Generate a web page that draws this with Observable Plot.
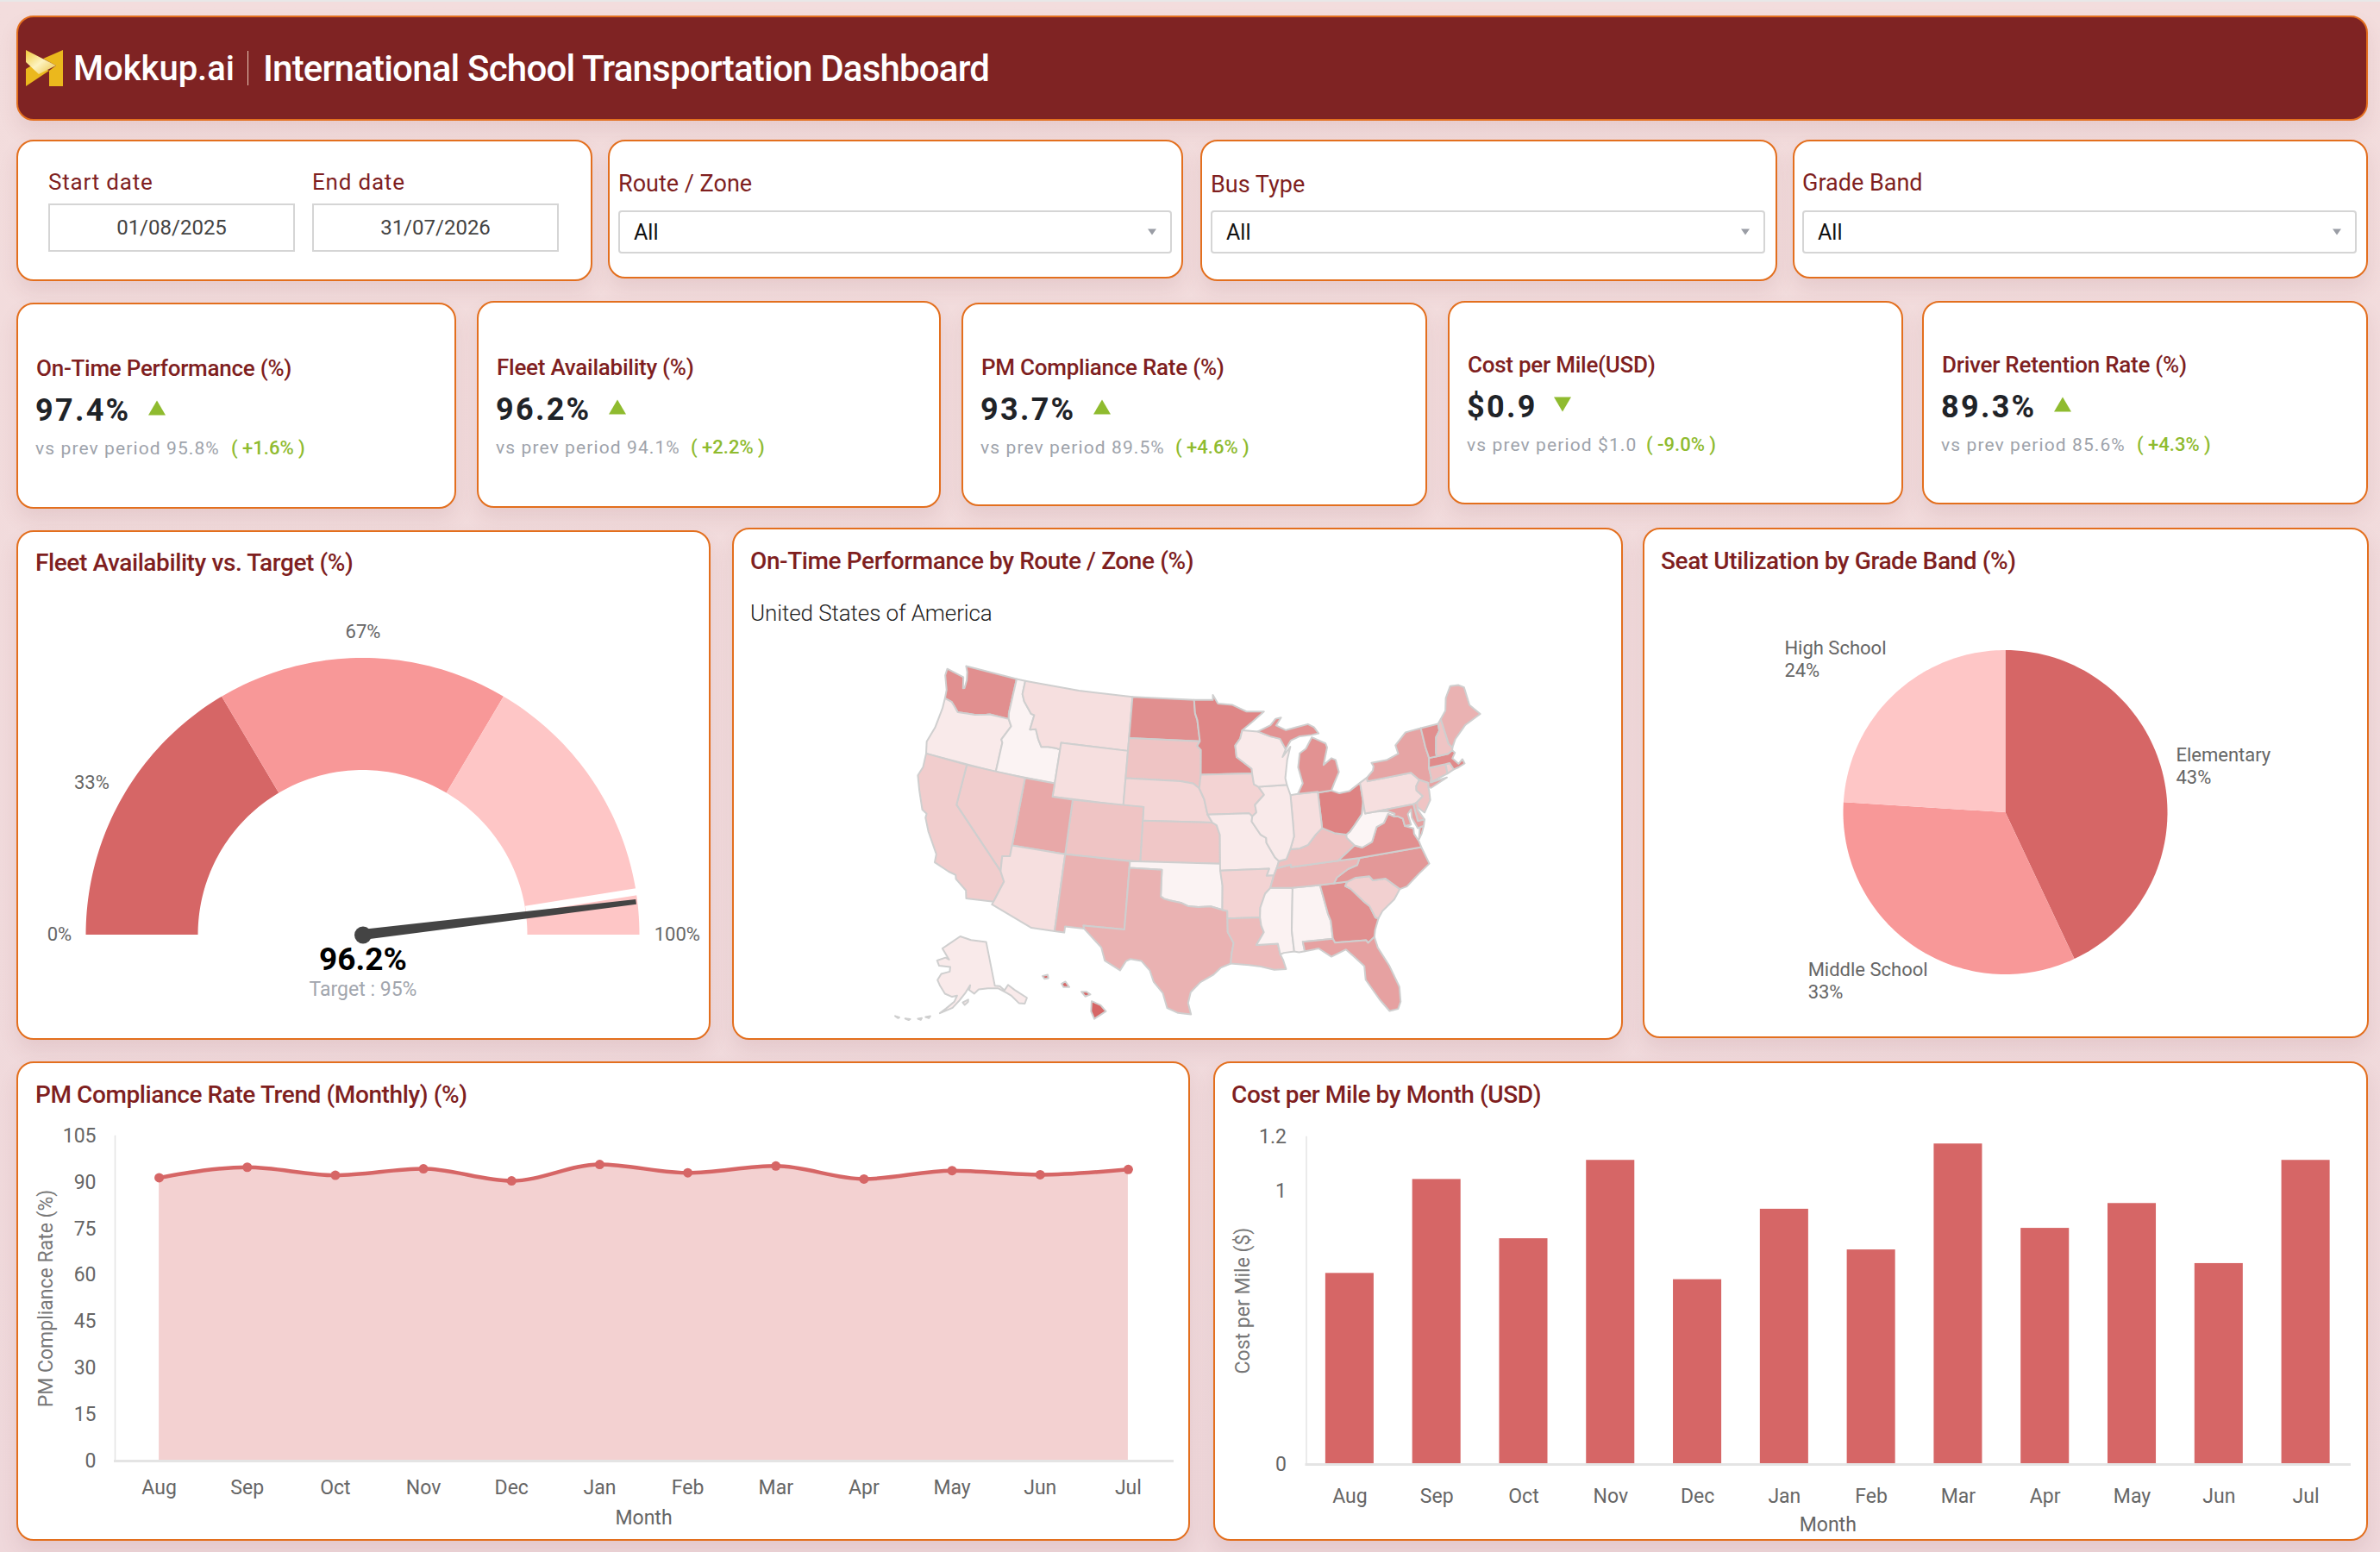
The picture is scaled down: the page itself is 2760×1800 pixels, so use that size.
<!DOCTYPE html>
<html><head><meta charset="utf-8">
<script src="https://cdn.jsdelivr.net/npm/d3@7"></script>
<script src="https://cdn.jsdelivr.net/npm/@observablehq/plot@0.6"></script>
<style>
html,body{margin:0;padding:0;background:#f2dcdc;width:2760px;height:1800px;overflow:hidden;font-family:Roboto,sans-serif}
#page{position:relative;width:2760px;height:1800px;background:linear-gradient(#f3dddd,#efd8db);border-top:2px solid #e8e8e8;box-sizing:border-box;margin-top:0}
.card{position:absolute;box-sizing:border-box;background:#fff;border:2.5px solid #e36f1e;border-radius:20px;box-shadow:0 12px 22px rgba(130,60,70,.10)}
.t{position:absolute;white-space:nowrap;transform:translateY(-50%);line-height:1}
.box{position:absolute;box-sizing:border-box;background:#fff;border:2px solid #d5d5d5}
.tri{position:absolute;width:0;height:0;transform:translate(-50%,-50%)}
svg.plot{position:absolute;left:0;top:0}
</style></head><body><div id="page"></div>
<script>
// ---------- data ----------
const months = ["Aug","Sep","Oct","Nov","Dec","Jan","Feb","Mar","Apr","May","Jun","Jul"];
const pmCompliance = [91.5,94.9,92.3,94.4,90.5,95.8,93.1,95.3,91.1,93.8,92.5,94.2];
const costPerMile = [0.70,1.044,0.827,1.114,0.677,0.935,0.786,1.174,0.865,0.956,0.736,1.114];
const pmTicks = [0,15,30,45,60,75,90,105];
const costTicks = [0,1,1.2];
const gaugeStops = [0,33,67,100];
const gaugeValue = 96.2;
const gaugeTarget = 95;
const grades = ["Elementary","Middle School","High School"];
const gradeShares = [43,33,24];
const palette = ["#d66666","#f89898","#fec6c6"];
const kpiTitles = ["On-Time Performance (%)","Fleet Availability (%)","PM Compliance Rate (%)","Cost per Mile(USD)","Driver Retention Rate (%)"];
const kpiValues = ["97.4%","96.2%","93.7%","$0.9","89.3%"];
const kpiPrev = ["95.8%","94.1%","89.5%","$1.0","85.6%"];
const kpiDelta = ["+1.6%","+2.2%","+4.6%","-9.0%","+4.3%"];
const filterTitles = ["Route / Zone","Bus Type","Grade Band"];

const stateValues = {WA:98.6,OR:95.5,ID:95.2,MT:95.9,WY:95.9,ND:98.6,SD:96.8,NE:96.2,KS:96.7,CO:96.8,UT:97.75,NV:96.5,CA:96.5,AZ:95.9,NM:97.4,
OK:95.2,TX:97.4,MN:98.9,IA:96.3,MO:95.5,AR:96.3,LA:97.1,MS:95.25,AL:95.2,GA:98.6,FL:98.0,SC:96.4,NC:98.3,TN:97.25,KY:96.9,VA:98.6,WV:95.15,
OH:99.0,IN:95.9,IL:95.5,WI:95.5,MI:98.5,PA:95.9,NY:97.9,NJ:96.8,DE:97.25,MD:98.0,CT:96.9,RI:96.4,MA:98.75,VT:98.6,NH:96.8,ME:97.4,AK:95.5,HI:100};

const stateShapes = {
WA:[[[-124.7,48.4],[-123.1,48.2],[-122.75,48.15],[-122.45,47.35],[-122.3,47.4],[-122.3,48.0],[-122.5,48.6],[-122.8,49],[-117.03,49],[-117.04,46.4],[-116.92,45.99],[-118.98,46],[-119.3,45.93],[-120.5,45.7],[-121.2,45.65],[-122.3,45.55],[-122.8,45.9],[-123.2,46.15],[-124,46.27],[-124.1,46.9],[-124.7,47.9]]],
OR:[[[-124,46.27],[-123.2,46.15],[-122.8,45.9],[-122.3,45.55],[-121.2,45.65],[-120.5,45.7],[-119.3,45.93],[-118.98,46],[-116.92,45.99],[-116.5,45.5],[-117.2,44.4],[-117.03,44.2],[-117.03,42],[-124.2,42],[-124.5,42.85],[-124.1,44],[-123.95,45.5]]],
ID:[[[-117.03,49],[-116.05,49],[-116.05,48],[-115.7,47.5],[-114.7,46.7],[-114.35,46.65],[-114.5,45.55],[-113.9,45.65],[-113.45,44.95],[-113,44.45],[-112.3,44.55],[-111.5,44.55],[-111.05,44.48],[-111.05,42],[-117.03,42],[-117.03,44.2],[-117.2,44.4],[-116.5,45.5],[-116.92,45.99],[-117.04,46.4]]],
MT:[[[-116.05,49],[-110,49],[-104.05,49],[-104.05,45],[-111.05,45],[-111.05,44.48],[-111.5,44.55],[-112.3,44.55],[-113,44.45],[-113.45,44.95],[-113.9,45.65],[-114.5,45.55],[-114.35,46.65],[-114.7,46.7],[-115.7,47.5],[-116.05,48]]],
WY:[[[-111.05,45],[-104.05,45],[-104.05,41],[-111.05,41]]],
ND:[[[-104.05,49],[-97.23,49],[-97.1,48],[-96.85,47.5],[-96.56,45.94],[-104.05,45.94]]],
SD:[[[-104.05,45.94],[-96.56,45.94],[-96.85,45.6],[-96.45,45.3],[-96.45,43.5],[-96.6,42.5],[-97.2,42.85],[-98.5,43],[-104.05,43]]],
NE:[[[-104.05,43],[-98.5,43],[-97.2,42.85],[-96.6,42.5],[-96.1,41.7],[-95.77,40.58],[-95.31,40],[-102.05,40],[-102.05,41],[-104.05,41]]],
KS:[[[-102.05,40],[-95.31,40],[-94.9,39.8],[-94.6,39.1],[-94.62,37],[-102.04,37]]],
CO:[[[-109.05,41],[-102.05,41],[-102.05,37],[-109.05,37]]],
UT:[[[-114.05,42],[-111.05,42],[-111.05,41],[-109.05,41],[-109.05,37],[-114.05,37]]],
NV:[[[-120,42],[-114.05,42],[-114.05,36.2],[-114.75,36.1],[-114.63,35],[-120,39]]],
CA:[[[-124.2,42],[-120,42],[-120,39],[-114.63,35],[-114.15,34.3],[-114.72,32.72],[-117.12,32.53],[-117.3,33.1],[-118.4,33.75],[-118.5,34.03],[-119.2,34.15],[-120.6,34.55],[-120.65,35.15],[-121.9,36.6],[-122.5,37.5],[-122.5,37.8],[-123,38],[-123.8,39.3],[-124.35,40.3],[-124.1,41]]],
AZ:[[[-114.05,37],[-109.05,37],[-109.05,31.33],[-111.07,31.33],[-114.81,32.5],[-114.72,32.72],[-114.15,34.3],[-114.63,35],[-114.75,36.1],[-114.05,36.2]]],
NM:[[[-109.05,37],[-103,37],[-103.04,32],[-106.62,32],[-106.53,31.78],[-108.2,31.78],[-108.2,31.33],[-109.05,31.33]]],
OK:[[[-103,37],[-94.62,37],[-94.43,35.4],[-94.48,33.64],[-95.5,33.9],[-96.6,33.85],[-97.5,33.9],[-98.1,34.13],[-99.2,34.3],[-99.7,34.4],[-100,34.56],[-100,36.5],[-103,36.5]]],
TX:[[[-103,36.5],[-100,36.5],[-100,34.56],[-99.7,34.4],[-99.2,34.3],[-98.1,34.13],[-97.5,33.9],[-96.6,33.85],[-95.5,33.9],[-94.48,33.64],[-94.04,33.55],[-94.04,33],[-94.04,32],[-93.55,31.2],[-93.75,30.4],[-93.84,29.7],[-94.7,29.4],[-95.3,28.9],[-96.4,28.35],[-97.2,27.6],[-97.4,26.8],[-97.15,25.96],[-98.2,26.05],[-99.1,26.4],[-99.5,27.5],[-100.3,28.3],[-100.65,29.1],[-101.4,29.77],[-102.35,29.87],[-102.7,29.7],[-103.15,28.98],[-104.5,29.6],[-104.9,30.55],[-106.53,31.78],[-106.62,32],[-103.04,32]]],
MN:[[[-97.23,49],[-95.15,49],[-95.15,49.38],[-94.6,48.72],[-93,48.6],[-91.5,48.07],[-89.6,48],[-90.9,47.3],[-92.05,46.7],[-92.3,46.1],[-92.85,45.6],[-92.75,44.75],[-91.25,43.85],[-91.22,43.5],[-96.45,43.5],[-96.45,45.3],[-96.85,45.6],[-96.56,45.94],[-96.85,47.5],[-97.1,48]]],
IA:[[[-96.45,43.5],[-91.22,43.5],[-91.1,42.7],[-90.65,42.5],[-90.15,41.9],[-91.1,41.2],[-91,40.65],[-91.42,40.38],[-91.7,40.6],[-95.77,40.58],[-96.1,41.7],[-96.6,42.5]]],
MO:[[[-95.77,40.58],[-91.7,40.6],[-91.42,40.38],[-91.5,40],[-90.7,39],[-90.2,38.75],[-90.2,38.4],[-89.5,37.3],[-89.15,37],[-89.4,36.5],[-89.7,36],[-90.37,36],[-90.1,36.5],[-94.62,36.5],[-94.62,37],[-94.6,39.1],[-94.9,39.8],[-95.31,40]]],
AR:[[[-94.62,36.5],[-90.1,36.5],[-90.37,36],[-89.7,36],[-90.1,35.1],[-90.6,34.7],[-91.1,33.7],[-91.17,33],[-94.04,33],[-94.04,33.55],[-94.48,33.64],[-94.43,35.4]]],
LA:[[[-94.04,33],[-91.17,33],[-91.1,32.4],[-90.9,31.9],[-91.6,31],[-89.75,31],[-89.6,30.2],[-89.4,29.8],[-89.2,29.1],[-90.2,29.1],[-91.3,29.4],[-92.3,29.55],[-93.84,29.7],[-93.75,30.4],[-93.55,31.2],[-94.04,32]]],
MS:[[[-90.1,35.1],[-88.2,35],[-88.1,34.9],[-88.47,31.9],[-88.4,30.35],[-89.3,30.3],[-89.6,30.2],[-89.75,31],[-91.6,31],[-90.9,31.9],[-91.1,32.4],[-91.17,33],[-91.1,33.7],[-90.6,34.7]]],
AL:[[[-88.2,35],[-85.6,35],[-85.18,32.85],[-85,32.3],[-85,31],[-87.6,31],[-87.5,30.3],[-88,30.25],[-88.4,30.35],[-88.47,31.9],[-88.1,34.9]]],
GA:[[[-85.6,35],[-84.32,35],[-83.1,35],[-83.35,34.7],[-82.9,34.45],[-81.9,33.4],[-81.45,33],[-81.1,32.1],[-80.85,32.03],[-81.3,31.2],[-81.45,30.72],[-82.05,30.36],[-82.2,30.57],[-84.86,30.7],[-85,31],[-85,32.3],[-85.18,32.85]]],
FL:[[[-87.6,31],[-85,31],[-84.86,30.7],[-82.2,30.57],[-82.05,30.36],[-81.45,30.72],[-81.3,29.9],[-80.6,28.5],[-80.05,26.8],[-80.15,25.7],[-80.45,25.2],[-81.15,25.15],[-81.8,26.1],[-82.7,27.7],[-82.65,28.7],[-83.4,29.5],[-84,30.1],[-85.3,29.7],[-86.3,30.4],[-87.5,30.3]]],
SC:[[[-83.35,34.7],[-83.1,35],[-82.3,35.2],[-81.05,35.15],[-80.8,34.82],[-79.67,34.8],[-78.55,33.86],[-79.2,33.2],[-80.4,32.5],[-80.85,32.03],[-81.1,32.1],[-81.45,33],[-81.9,33.4],[-82.9,34.45]]],
NC:[[[-84.32,35],[-83.1,35],[-82.3,35.2],[-81.05,35.15],[-80.8,34.82],[-79.67,34.8],[-78.55,33.86],[-77.9,33.95],[-76.6,34.7],[-75.5,35.25],[-75.9,36.55],[-81.68,36.59],[-82,36.1],[-82.9,35.9],[-84,35.4]]],
TN:[[[-90.1,35.1],[-88.2,35],[-85.6,35],[-84.32,35],[-84,35.4],[-82.9,35.9],[-82,36.1],[-81.68,36.59],[-83.68,36.6],[-88.07,36.5],[-88.07,36.68],[-89.4,36.5],[-89.7,36]]],
KY:[[[-89.4,36.5],[-88.07,36.68],[-88.07,36.5],[-83.68,36.6],[-81.97,37.54],[-82.6,38.17],[-82.6,38.4],[-83.7,38.63],[-84.8,39.1],[-85.45,38.7],[-86.3,38],[-87.1,37.8],[-88,37.8],[-88.45,37.1],[-89.15,37]]],
VA:[[[-83.68,36.6],[-81.68,36.59],[-75.9,36.55],[-76,37],[-76.3,37.6],[-76.25,38],[-77,38.3],[-77.05,38.85],[-77.5,39.1],[-77.83,39.13],[-78.35,39.4],[-78.9,38.8],[-79.65,38.6],[-80.3,37.6],[-81.3,37.3],[-81.97,37.54]],[[-75.25,38.03],[-75.65,37.95],[-75.95,37.15],[-75.6,37.5]]],
WV:[[[-81.97,37.54],[-81.3,37.3],[-80.3,37.6],[-79.65,38.6],[-78.9,38.8],[-78.35,39.4],[-77.83,39.13],[-77.72,39.32],[-78.4,39.62],[-79.48,39.72],[-80.52,39.72],[-80.52,40.64],[-80.85,39.7],[-81.7,39],[-82.2,38.6],[-82.6,38.4],[-82.6,38.17]]],
OH:[[[-84.8,41.7],[-83.45,41.73],[-82.7,41.45],[-81.7,41.5],[-80.52,41.98],[-80.52,40.64],[-80.85,39.7],[-81.7,39],[-82.2,38.6],[-82.6,38.4],[-83.7,38.63],[-84.8,39.1]]],
IN:[[[-87.53,41.72],[-86.8,41.76],[-84.8,41.76],[-84.8,41.7],[-84.8,39.1],[-85.45,38.7],[-86.3,38],[-87.1,37.8],[-88,37.8],[-87.55,38.7],[-87.53,39.35]]],
IL:[[[-90.65,42.5],[-87.8,42.5],[-87.53,41.72],[-87.53,39.35],[-87.55,38.7],[-88,37.8],[-88.45,37.1],[-89.15,37],[-89.5,37.3],[-90.2,38.4],[-90.2,38.75],[-90.7,39],[-91.5,40],[-91.42,40.38],[-91,40.65],[-91.1,41.2],[-90.15,41.9]]],
WI:[[[-92.75,44.75],[-92.85,45.6],[-92.3,46.1],[-92.05,46.7],[-90.4,46.55],[-89.1,46.13],[-88.1,45.9],[-87.6,45.1],[-88,44.55],[-87.1,45.25],[-87.55,44.3],[-87.9,43],[-87.8,42.5],[-90.65,42.5],[-91.1,42.7],[-91.22,43.5],[-91.25,43.85]]],
MI:[[[-86.8,41.76],[-84.8,41.76],[-84.8,41.7],[-83.45,41.73],[-83.1,42.2],[-82.45,43],[-82.6,43.9],[-83,44.07],[-83.9,43.65],[-83.3,44.9],[-83.4,45.2],[-84.75,45.78],[-85.5,45],[-86.2,44.7],[-86.5,43.7],[-86.2,42.5]],[[-90.4,46.55],[-89,46.95],[-88.4,47.4],[-87.8,47.45],[-88.4,46.9],[-87.4,46.5],[-86.2,46.65],[-85,46.77],[-84.4,46.5],[-84,46],[-84.75,45.95],[-86,45.95],[-87,45.7],[-87.6,45.1],[-88.1,45.9],[-89.1,46.13]]],
PA:[[[-80.52,41.98],[-79.76,42.27],[-79.76,42],[-75.35,42],[-74.7,41.36],[-75.13,40.97],[-75.2,40.65],[-74.72,40.15],[-75.4,39.8],[-75.79,39.72],[-79.48,39.72],[-80.52,39.72],[-80.52,40.64]]],
NY:[[[-79.76,42.27],[-79.05,42.7],[-78.9,43],[-79.05,43.27],[-77.5,43.27],[-76.2,43.55],[-76.3,44.2],[-75,44.97],[-73.35,45.01],[-73.35,43.6],[-73.25,42.75],[-73.5,42.05],[-73.5,41.3],[-73.65,41],[-72,41.05],[-73.75,40.6],[-74,40.7],[-73.9,41],[-74.7,41.36],[-75.35,42],[-79.76,42]]],
NJ:[[[-74.7,41.36],[-73.9,41],[-74,40.7],[-74,40.4],[-74.1,39.75],[-74.9,38.95],[-75.5,39.5],[-75.4,39.8],[-74.72,40.15],[-75.2,40.65],[-75.13,40.97]]],
DE:[[[-75.79,39.72],[-75.4,39.8],[-75.5,39.3],[-75.05,38.45],[-75.7,38.46]]],
MD:[[[-79.48,39.72],[-75.79,39.72],[-75.7,38.46],[-75.05,38.45],[-75.25,38.03],[-75.85,37.95],[-76.2,38.8],[-76.1,39.4],[-76.5,39.1],[-76.4,38.3],[-77,38.3],[-77.05,38.85],[-77.5,39.1],[-77.83,39.13],[-77.72,39.32],[-78.4,39.62]]],
CT:[[[-73.5,42.05],[-71.8,42.02],[-71.85,41.32],[-73.65,41],[-73.5,41.3]]],
RI:[[[-71.8,42.02],[-71.38,42.02],[-71.15,41.5],[-71.85,41.32]]],
MA:[[[-73.5,42.05],[-73.25,42.75],[-72.46,42.73],[-71.3,42.7],[-70.8,42.87],[-70.6,42.65],[-71,42.3],[-70.55,41.8],[-70.05,42.05],[-69.95,41.7],[-70.65,41.55],[-71.15,41.5],[-71.38,42.02],[-71.8,42.02]]],
VT:[[[-73.35,45.01],[-71.5,45.01],[-71.55,44.5],[-72.05,44.1],[-72.45,43],[-72.46,42.73],[-73.25,42.75],[-73.35,43.6]]],
NH:[[[-71.5,45.01],[-71.1,45.3],[-70.98,43.4],[-70.7,43.07],[-70.8,42.87],[-71.3,42.7],[-72.46,42.73],[-72.45,43],[-72.05,44.1],[-71.55,44.5]]],
ME:[[[-71.1,45.3],[-70.4,45.8],[-70,46.7],[-69.2,47.45],[-68.3,47.35],[-67.8,47.07],[-67.8,45.7],[-67,44.85],[-68.8,44.4],[-70.2,43.6],[-70.7,43.07],[-70.98,43.4]]],
AK:[[[-141,69.65],[-141,60.3],[-139,60],[-137.5,58.9],[-135.5,59.8],[-133.5,58.4],[-130,56],[-131.5,55],[-133.5,55.5],[-135.5,57.5],[-137,58.3],[-139.8,59.6],[-144,60],[-148,60],[-150,59.2],[-152,60],[-151.5,61],[-153.5,59.5],[-156,57.8],[-158.5,56.2],[-163,54.8],[-161,55.9],[-158,57.5],[-157,58.8],[-159,58.5],[-162,59],[-164.5,60.5],[-166,61.6],[-164.8,63],[-161,63.7],[-161,64.7],[-166.5,64.6],[-168,65.6],[-164,66.5],[-162,66.2],[-166.5,68.3],[-163,69.5],[-156.7,71.3],[-150,70.5]],[[-167.8,53.5],[-166.2,53.9],[-166.6,53.4]],[[-170.3,52.8],[-169,53.1],[-169.2,52.7]],[[-174.5,52.1],[-172.8,52.3],[-173.2,52]],[[-154.7,57.4],[-152.5,58],[-152.6,57.5],[-153.9,56.9]],[[-178,51.9],[-176.5,51.95],[-176.8,51.7]]],
HI:[[[-155.9,20.25],[-155.2,19.95],[-154.8,19.5],[-155.7,18.95],[-155.95,19.5]],[[-156.7,20.95],[-156.3,20.95],[-156,20.75],[-156.4,20.6]],[[-158.25,21.55],[-157.95,21.7],[-157.65,21.3],[-158.1,21.3]],[[-159.75,22.1],[-159.35,22.2],[-159.3,21.95],[-159.6,21.9]]]
};

// ---------- page helpers ----------
const page = document.getElementById("page");
const el = (cls, css, txt) => { const d = document.createElement("div"); d.className = cls; Object.assign(d.style, css); if (txt != null) d.textContent = txt; page.appendChild(d); return d; };
const px = v => v + "px";
const card = (x0,y0,x1,y1,extra={}) => el("card",{left:px(x0),top:px(y0),width:px(x1-x0+1.5),height:px(y1-y0),...extra});
const text = (s,x,y,size,color,extra={}) => el("t",{left:px(x),top:px(y),fontSize:px(size),color,...extra},s);
const maroon = "#7f1f1f";
const titleStyle = {fontWeight:500,letterSpacing:"-.4px"};
const place = (svg,x,y) => { svg.style.position="absolute"; svg.style.left=px(x); svg.style.top=px(y-2); svg.style.background="transparent"; svg.style.overflow="visible"; page.appendChild(svg); };

// header
card(19,16,2744,138,{background:"#7f2323"});
{
  const ns="http://www.w3.org/2000/svg"; const s=document.createElementNS(ns,"svg");
  s.setAttribute("width",44); s.setAttribute("height",42); s.setAttribute("viewBox","0 0 44 42");
  s.innerHTML='<defs><linearGradient id="gold" x1="0" y1="0" x2="1" y2="1"><stop offset="0" stop-color="#f0c93a"/><stop offset=".5" stop-color="#fdf3c0"/><stop offset="1" stop-color="#e9c040"/></linearGradient></defs><path d="M20 10L43 0L43 42L27 42L27 24L35 18Z" fill="#ebb81d"/><path d="M0 22L10 16L27 24L0 42Z" fill="#ebb81d"/><path d="M0 0L35 18L15 28L0 14Z" fill="url(#gold)"/>';
  s.style.position="absolute"; s.style.left="30px"; s.style.top="56px"; page.appendChild(s);
}
text("Mokkup.ai",85,78,40,"#fff",{fontWeight:500});
el("box",{left:"287px",top:"57px",width:"1px",height:"40px",border:"none",background:"#e9c9b8"});
text("International School Transportation Dashboard",305,78,42,"#fff",{fontWeight:500,letterSpacing:"-.8px"});

// filters
card(19,160,685,324);
text("Start date",56,209,26,maroon,{letterSpacing:".8px"});
text("End date",362,209,26,maroon,{letterSpacing:".8px"});
[[56,342,"01/08/2025"],[362,648,"31/07/2026"]].forEach(([a,b,s])=>{
  el("box",{left:px(a),top:"234px",width:px(b-a),height:px(56)});
  text(s,a,262,24,"#444",{width:px(b-a),textAlign:"center"});
});
[[705,1370,717,1359,321,211],[1392,2059,1404,2047,324,212],[2079,2744,2090,2733,321,210]].forEach(([x0,x1,a,b,yb,ly],i)=>{
  card(x0,160,x1,yb);
  text(filterTitles[i],a,ly,27,maroon,{});
  el("box",{left:px(a),top:"242px",width:px(b-a),height:"50px",borderRadius:"4px"});
  text("All",a+18,267,25,"#111");
  el("tri",{left:px(b-23),top:"267px",borderLeft:"5px solid transparent",borderRight:"5px solid transparent",borderTop:"7px solid #9a9da5"});
});

// KPI cards
const kpiCards=[[19,527,349,588,42,425],[553,1089,347,587,576,423.5],[1115,1653,349,585,1138,423.5],[1679,2205,347,583,1702,421],[2229,2744,347,583,2252,421]];
const arrowX=[182,716,1278,1812,2392], deltaX=[268,801,1363,1909,2478];
kpiCards.forEach(([x0,x1,y0,y1,tx,ty],i)=>{
  card(x0,y0,x1,y1);
  text(kpiTitles[i],tx,ty,26,maroon,{fontWeight:500,letterSpacing:"-.25px"});
  text(kpiValues[i],tx-1,ty+49,36,"#1f2328",{fontWeight:700,letterSpacing:"2.3px"});
  const up=kpiDelta[i][0]==="+";
  el("tri",{left:px(arrowX[i]),top:px(ty+46),borderLeft:"10px solid transparent",borderRight:"10px solid transparent",[up?"borderBottom":"borderTop"]:"17px solid #8fbb2f"});
  text("vs prev period "+kpiPrev[i],tx-1,ty+93,21,"#9ea3ab",{letterSpacing:"1.1px"});
  text("( "+kpiDelta[i]+" )",deltaX[i],ty+93,22,"#8fbb2f",{fontWeight:500});
});

// ---------- chart cards ----------
const C1=[19,613,822,1204], C2=[849,610,1880,1204], C3=[1905,610,2745,1202], C4=[19,1229,1378,1785], C5=[1407,1229,2744,1785];
[C1,C2,C3,C4,C5].forEach(c=>card(...c));
text("Fleet Availability vs. Target (%)",41,651,28,maroon,titleStyle);
text("On-Time Performance by Route / Zone (%)",870,649,28,maroon,titleStyle);
text("United States of America",870,709,26,"#222",{fontWeight:300,letterSpacing:"-.1px"});
text("Seat Utilization by Grade Band (%)",1926,649,28,maroon,titleStyle);
text("PM Compliance Rate Trend (Monthly) (%)",41,1268,28,maroon,titleStyle);
text("Cost per Mile by Month (USD)",1428,1268,28,maroon,titleStyle);

// unit-circle plot frame: R pixels per unit, centred at (cx,cy) inside a W×H svg
const polarFrame=(W,H,cx,cy,R)=>({width:W,height:H,margin:0,
  x:{axis:null,domain:[-cx/R,(W-cx)/R],range:[0,W]},
  y:{axis:null,domain:[-(H-cy)/R,cy/R],range:[H,0]},
  style:{background:"transparent",fontFamily:"Roboto"}});

// gauge
const pctAngle=p=>Math.PI*(1-p/100);
const innerRatio=0.595;
const gaugeBands=[];
gaugeStops.slice(0,-1).forEach((a,i)=>{const b=gaugeStops[i+1];
  d3.range(0,1.0001,1/48).forEach(t=>{const th=pctAngle(a+(b-a)*t);
    gaugeBands.push({band:i,x1:Math.cos(th),y1:Math.sin(th),x2:innerRatio*Math.cos(th),y2:innerRatio*Math.sin(th)});});});
const needleHalf=[0.019,0.009], needleLen=[0,0.995], th=pctAngle(gaugeValue);
const needleRows=needleLen.map((r,i)=>({
  x1:r*Math.cos(th)-needleHalf[i]*Math.sin(th), y1:r*Math.sin(th)+needleHalf[i]*Math.cos(th),
  x2:r*Math.cos(th)+needleHalf[i]*Math.sin(th), y2:r*Math.sin(th)-needleHalf[i]*Math.cos(th)}));
const thT=pctAngle(gaugeTarget);
const gaugeLabels=[{s:"0%",x:-1.097,y:0.003},{s:"33%",x:-0.98,y:0.55},{s:"67%",x:0,y:1.094},{s:"100%",x:1.135,y:0.003}];
const gauge=Plot.plot({...polarFrame(C1[2]-C1[0],C1[3]-C1[1],401.5,471,321),
  color:{domain:[0,1,2],range:palette},
  marks:[
    Plot.area(gaugeBands,{x1:"x1",y1:"y1",x2:"x2",y2:"y2",z:"band",fill:"band"}),
    Plot.link([gaugeTarget],{x1:()=>innerRatio*Math.cos(thT),y1:()=>innerRatio*Math.sin(thT),x2:()=>1.01*Math.cos(thT),y2:()=>1.01*Math.sin(thT),stroke:"#fff",strokeWidth:8}),
    Plot.area(needleRows,{x1:"x1",y1:"y1",x2:"x2",y2:"y2",fill:"#444"}),
    Plot.dot([0],{x:0,y:0,r:10,fill:"#444"}),
    Plot.text(gaugeLabels,{x:"x",y:"y",text:"s",fontSize:22,fill:"#666"}),
    Plot.text([gaugeValue+"%"],{x:0,y:-0.089,fontSize:37,fontWeight:700,fill:"#000"}),
    Plot.text(["Target : "+gaugeTarget+"%"],{x:0,y:-0.196,fontSize:23,fill:"#a2a6ae"})
  ]});
place(gauge,C1[0],C1[1]);

// map
const stateFeatures=Object.keys(stateShapes).map(id=>({type:"Feature",id,
  properties:{value:stateValues[id]},
  geometry:{type:"MultiPolygon",coordinates:stateShapes[id].map(ring=>{
    const r=[...ring,ring[0]];
    return [d3.geoArea({type:"Polygon",coordinates:[r]})>2*Math.PI?r.slice().reverse():r];
  })}}));
const lower48={type:"FeatureCollection",features:stateFeatures.filter(f=>f.id!=="AK"&&f.id!=="HI")};
const mapPlot=Plot.plot({width:C2[2]-C2[0],height:C2[3]-C2[1],
  marginLeft:1062-C2[0],marginRight:C2[2]-1718,marginTop:772-C2[1],marginBottom:C2[3]-1176,
  projection:{type:"albers-usa",domain:lower48,clip:false},
  color:{type:"linear",domain:[95,100],range:["#fdf9f9","#d66666"]},
  style:{background:"transparent",fontFamily:"Roboto"},
  marks:[Plot.geo(stateFeatures,{fill:d=>d.properties.value,stroke:"#cfcfcf",strokeWidth:2})]});
place(mapPlot,C2[0],C2[1]);

// pie
const pieRows=[];
let cum=0;
gradeShares.forEach((v,i)=>{const a=cum,b=cum+v;cum=b;
  d3.range(0,1.0001,1/80).forEach(t=>{const ang=2*Math.PI*(a+(b-a)*t)/100;
    pieRows.push({g:grades[i],x1:Math.sin(ang),y1:Math.cos(ang),x2:0,y2:0});});});
const pieLabelPos=[{x:1.05,y:0.29},{x:-1.22,y:-1.034},{x:-1.365,y:0.953}];
const pieLabels=grades.map((g,i)=>({s:g+"\n"+gradeShares[i]+"%",...pieLabelPos[i]}));
const pie=Plot.plot({...polarFrame(C3[2]-C3[0],C3[3]-C3[1],2325.5-C3[0],942-C3[1],188),
  color:{domain:grades,range:palette},
  marks:[
    Plot.area(pieRows,{x1:"x1",y1:"y1",x2:"x2",y2:"y2",z:"g",fill:"g"}),
    Plot.text(pieLabels,{x:"x",y:"y",text:"s",textAnchor:"start",fontSize:22,lineHeight:1.18,fill:"#666"})
  ]});
place(pie,C3[0],C3[1]);

// line/area
const axisColor="#e4e4e4", tickColor="#666";
const linePlot=Plot.plot({width:C4[2]-C4[0],height:C4[3]-C4[1],
  marginLeft:133-C4[0],marginRight:C4[2]-1359,marginTop:1317-C4[1],marginBottom:C4[3]-1694,
  x:{type:"point",domain:months,padding:.5,round:false,label:null},
  y:{domain:[0,105],label:null},
  style:{background:"transparent",fontFamily:"Roboto"},
  marks:[
    Plot.frame({anchor:"left",stroke:axisColor,strokeWidth:1.5}),
    Plot.areaY(months,{x:d=>d,y:(d,i)=>pmCompliance[i],fill:"#d66666",fillOpacity:.3,curve:"monotone-x"}),
    Plot.frame({anchor:"bottom",stroke:axisColor,strokeWidth:3}),
    Plot.lineY(months,{x:d=>d,y:(d,i)=>pmCompliance[i],stroke:"#d66666",strokeWidth:4.5,curve:"monotone-x"}),
    Plot.dot(months,{x:d=>d,y:(d,i)=>pmCompliance[i],r:5.5,fill:"#d66666"}),
    Plot.axisY({ticks:pmTicks,tickSize:0,tickPadding:22,fontSize:23,color:tickColor,label:null}),
    Plot.axisX({tickSize:0,tickPadding:22,fontSize:23,color:tickColor,label:null}),
    Plot.text(["Month"],{frameAnchor:"bottom",lineAnchor:"middle",dy:66,fontSize:23,fill:tickColor}),
    Plot.text(["PM Compliance Rate (%)"],{frameAnchor:"left",textAnchor:"middle",dx:-80,rotate:-90,fontSize:23,letterSpacing:"1.4px",fill:"#777"})
  ]});
place(linePlot,C4[0],C4[1]);

// bars
const barPlot=Plot.plot({width:C5[2]-C5[0],height:C5[3]-C5[1],
  marginLeft:1514.5-C5[0],marginRight:C5[2]-2724,marginTop:1318-C5[1],marginBottom:C5[3]-1698,
  x:{type:"band",domain:months,paddingInner:.444,paddingOuter:.222,round:false,label:null},
  y:{domain:[0,1.2],label:null},
  style:{background:"transparent",fontFamily:"Roboto"},
  marks:[
    Plot.frame({anchor:"left",stroke:axisColor,strokeWidth:1.5}),
    Plot.barY(months,{x:d=>d,y:(d,i)=>costPerMile[i],fill:"#d66666"}),
    Plot.frame({anchor:"bottom",stroke:axisColor,strokeWidth:3}),
    Plot.axisY({ticks:costTicks,tickFormat:d=>String(d),tickSize:0,tickPadding:23,fontSize:23,color:tickColor,label:null}),
    Plot.axisX({tickSize:0,tickPadding:28,fontSize:23,color:tickColor,label:null}),
    Plot.text(["Month"],{frameAnchor:"bottom",lineAnchor:"middle",dy:70,fontSize:23,fill:tickColor}),
    Plot.text(["Cost per Mile ($)"],{frameAnchor:"left",textAnchor:"middle",dx:-73,rotate:-90,fontSize:23,letterSpacing:"1.1px",fill:"#777"})
  ]});
place(barPlot,C5[0],C5[1]);
</script></body></html>
